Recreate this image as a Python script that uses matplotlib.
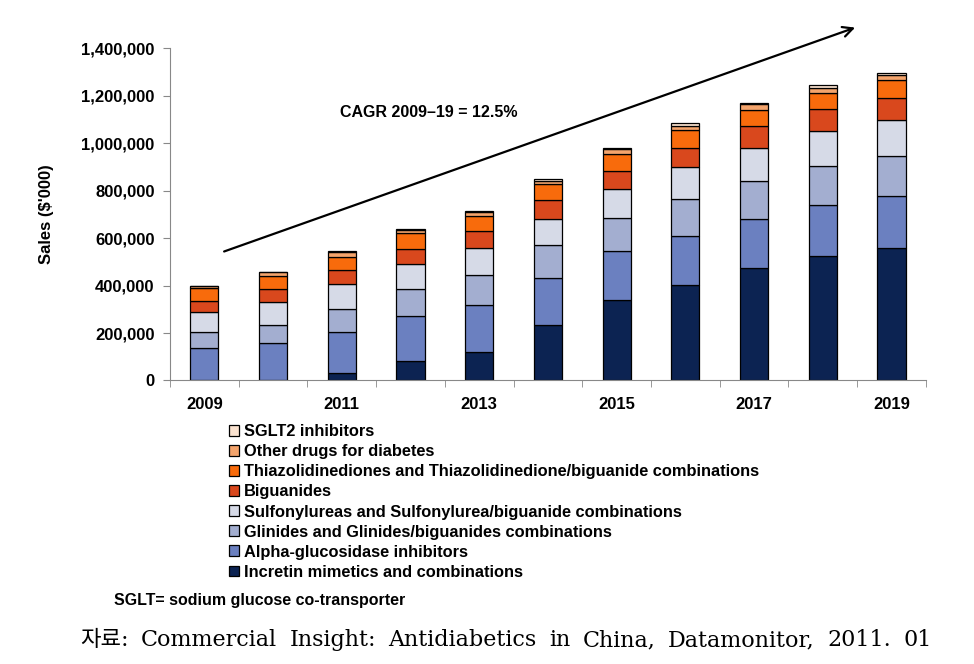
import numpy as np
import matplotlib
matplotlib.use("Agg")
import matplotlib.pyplot as plt
from matplotlib.ticker import FuncFormatter

plt.rcParams['font.family'] = ['Liberation Sans', 'DejaVu Sans']

years = ["2009", "2010", "2011", "2012", "2013", "2014", "2015", "2016", "2017", "2018", "2019"]

# sales, $'000, one list per drug class (bottom to top)
incretin = [0, 0, 32000, 82000, 122000, 232000, 338000, 404000, 473000, 526000, 560000]
alpha_gluc = [137000, 158000, 174000, 189000, 198000, 202000, 207000, 207000, 210000, 216000, 217000]
glinides = [67000, 76000, 95000, 114000, 126000, 139000, 142000, 156000, 160000, 164000, 171000]
sulfonyl = [85000, 97000, 104000, 105000, 112000, 108000, 120000, 133000, 139000, 146000, 151000]
biguanides = [46000, 55000, 61000, 66000, 71000, 78000, 78000, 82000, 90000, 91000, 94000]
tzd = [53000, 55000, 55000, 64000, 66000, 68000, 68000, 73000, 68000, 68000, 72000]
other = [12000, 17000, 21000, 14000, 17000, 16000, 22000, 18000, 24000, 24000, 25000]
sglt2 = [0, 0, 2000, 3000, 2000, 8000, 5000, 11000, 7000, 9000, 7000]

series = [incretin, alpha_gluc, glinides, sulfonyl, biguanides, tzd, other, sglt2]
labels = ["Incretin mimetics and combinations",
          "Alpha-glucosidase inhibitors",
          "Glinides and Glinides/biguanides combinations",
          "Sulfonylureas and Sulfonylurea/biguanide combinations",
          "Biguanides",
          "Thiazolidinediones and Thiazolidinedione/biguanide combinations",
          "Other drugs for diabetes",
          "SGLT2 inhibitors"]
colors = ["#0c2352", "#6b80c0", "#a3aed0", "#d6dae7", "#d9481d", "#f86b0c", "#f4a46c", "#fbe3d0"]

source_words = "자료: Commercial Insight: Antidiabetics in China, Datamonitor, 2011. 01".split(" ")

fig = plt.figure(figsize=(9.74, 6.64), dpi=100)
ax = fig.add_axes([0.1745, 0.427, 0.776, 0.5])

x = np.arange(len(years))
bottom = np.zeros(len(years))
handles = []
for vals, lab, c in zip(series, labels, colors):
    b = ax.bar(x, vals, 0.41, bottom=bottom, color=c, edgecolor="black", linewidth=0.9, label=lab)
    handles.append(b)
    bottom += np.array(vals)

ax.set_xlim(-0.5, 10.5)
ax.set_ylim(0, 1400000)
ax.set_yticks(np.arange(0, 1400001, 200000))
ax.yaxis.set_major_formatter(FuncFormatter(lambda v, p: f"{int(v):,}"))
ax.set_xticks(x[::2])
ax.set_xticklabels(years[::2])
ax.set_xticks(np.arange(-0.5, 11, 1), minor=True)
ax.tick_params(axis="x", which="major", length=0, pad=12)
ax.tick_params(axis="x", which="minor", length=5, color="#888888")
ax.tick_params(axis="y", length=5, color="#888888", pad=6)
for t in ax.get_xticklabels() + ax.get_yticklabels():
    t.set_fontweight("bold")
    t.set_fontsize(12)
for s in ["top", "right"]:
    ax.spines[s].set_visible(False)
for s in ["left", "bottom"]:
    ax.spines[s].set_color("#888888")

ax.set_ylabel("Sales ($'000)", fontweight="bold", fontsize=12, labelpad=20)

ax.annotate("", xy=(9.51, 1492000), xytext=(0.25, 540000),
            arrowprops=dict(arrowstyle="->", color="black", lw=1.6, mutation_scale=18),
            annotation_clip=False)
ax.text(3.27, 1130000, "CAGR 2009\u201319 = 12.5%", ha="center", va="center",
        fontsize=11.5, fontweight="bold")

leg = fig.legend(handles[::-1], labels[::-1], loc="upper left", bbox_to_anchor=(0.228, 0.371),
                 frameon=False, handlelength=0.65, handleheight=0.65, handletextpad=0.3,
                 labelspacing=0.31, prop={"weight": "bold", "size": 11.8}, borderaxespad=0)

fig.text(0.117, 0.095, "SGLT= sodium glucose co-transporter", fontsize=11.5, fontweight="bold", va="center")

# source line, justified across the width like the original
renderer = fig.canvas.get_renderer()
texts = [fig.text(0, 0.036, w, fontsize=16, va="center",
                  family=["DejaVu Serif", "Noto Sans CJK KR"]) for w in source_words]
widths = [t.get_window_extent(renderer).width for t in texts]
x0, x1 = 80, 932
gap = (x1 - x0 - sum(widths)) / (len(texts) - 1)
pos = x0
for t, w in zip(texts, widths):
    t.set_x(pos / fig.bbox.width)
    pos += w + gap

fig.savefig("out.png", dpi=100)
